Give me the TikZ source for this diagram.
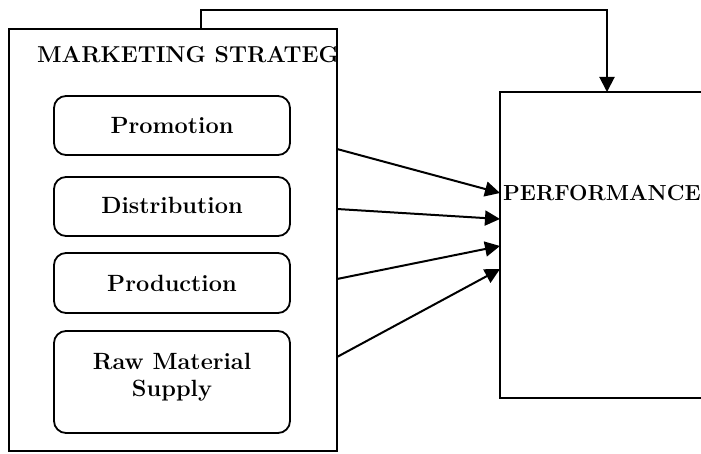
\documentclass[tikz,border=0pt]{standalone}
\usetikzlibrary{arrows.meta}
\begin{document}
\begin{tikzpicture}[x=1pt,y=1pt,
  frame/.style={draw,line width=2pt},
  factor/.style={draw,line width=1.8pt,rounded corners=12pt},
  lbl/.style={font=\fontsize{23.5}{27}\selectfont\bfseries,align=center},
  big/.style={font=\fontsize{23}{27}\selectfont\bfseries},
  link/.style={line width=2pt,-{Triangle[length=15pt,width=15pt]}}]
\useasboundingbox (0,0) rectangle (701,453);
\begin{scope}
\clip (0,0) rectangle (701,453);
% outer frames
\draw[frame] (9,2) rectangle (337,424);
\coordinate (ms) at (173,213);
\draw[frame] (720,55) -- (500,55) -- (500,361) -- (720,361);
\coordinate (perf) at (600,208);
% title of the strategy frame, cut at its right edge
\begin{scope}
\clip (10,3) rectangle (335,423);
\node[big,anchor=base west,inner sep=0] (mst) at (37,390) {MARKETING STRATEGY};
\end{scope}
\node[big,font=\fontsize{21.8}{26}\selectfont\bfseries,anchor=west,inner sep=0] (pft) at (503,260) {PERFORMANCE};
% the four factors
\draw[factor] (54,298) rectangle (290,357);
\node[lbl] (promo) at (172,327) {Promotion};
\draw[factor] (54,217) rectangle (290,276);
\node[lbl] (dist) at (172,248) {Distribution};
\draw[factor] (54,140) rectangle (290,200);
\node[lbl] (prod) at (172,170) {Production};
\draw[factor] (54,20) rectangle (290,122);
\node[lbl] (raw) at (172,76) {Raw Material\\Supply};
% connectors
\coordinate (s1) at (337,304);
\coordinate (s2) at (337,244);
\coordinate (s3) at (337,174);
\coordinate (s4) at (337,96);
\coordinate (e1) at (500,260);
\coordinate (e2) at (500,234);
\coordinate (e3) at (500,207);
\coordinate (e4) at (500,184);
\draw[link] (s1) -- (e1);
\draw[link] (s2) -- (e2);
\draw[link] (s3) -- (e3);
\draw[link] (s4) -- (e4);
\coordinate (fb0) at (201,424);
\coordinate (fb1) at (607,361);
\draw[link] (fb0) -- (201,443) -- (607,443) -- (fb1);
\end{scope}
\end{tikzpicture}
\end{document}
